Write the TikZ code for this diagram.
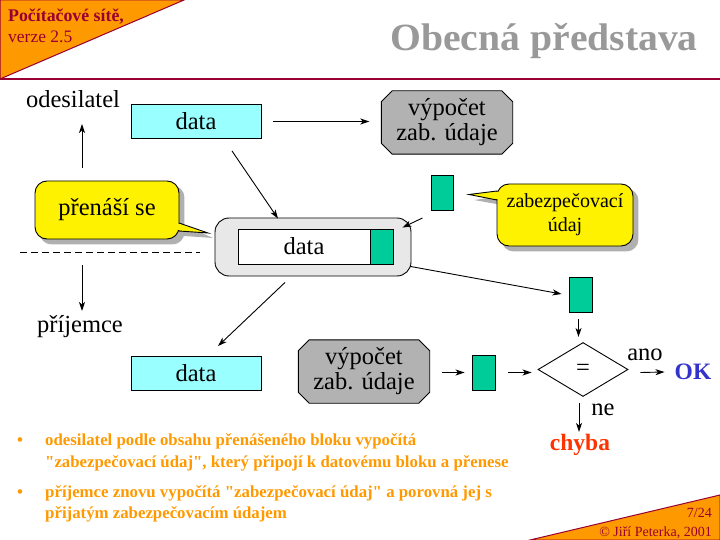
\documentclass[tikz,border=0pt]{standalone}
\usepackage{fontspec}
\setmainfont{Liberation Serif}[Ligatures=TeXOff]
\usetikzlibrary{arrows.meta,calc,backgrounds,shapes.geometric}
\definecolor{dred}{HTML}{990033}
\definecolor{orng}{HTML}{FF9900}
\definecolor{cyanbox}{HTML}{99FFFF}
\definecolor{grn}{HTML}{00CC99}
\definecolor{octg}{HTML}{B2B2B2}
\definecolor{contg}{HTML}{E8E8E8}
\definecolor{ttlg}{HTML}{999999}
\definecolor{okblue}{HTML}{3333CC}
\definecolor{errred}{HTML}{FF3300}
\definecolor{shad}{HTML}{B0B0B0}
\newcommand{\fsz}[2]{\fontsize{#1}{#2}\selectfont}
\newcommand{\octshape}[2]{\filldraw[fill=octg,line width=0.9pt] ([xshift=#2]#1.north west) -- ([xshift=-#2]#1.north east) -- ([yshift=-#2]#1.north east) -- ([yshift=#2]#1.south east) -- ([xshift=-#2]#1.south east) -- ([xshift=#2]#1.south west) -- ([yshift=#2]#1.south west) -- ([yshift=-#2]#1.north west) -- cycle;}
\begin{document}
\begin{tikzpicture}[x=1pt,y=-1pt,
  arr/.style={-{Stealth[length=9pt,width=6pt,inset=2.5pt]},line width=0.9pt},
  txt/.style={font=\fsz{24.5}{25},inner sep=0pt},
  box/.style={draw,line width=0.9pt,inner sep=0pt,font=\fsz{24.5}{25}},
  databox/.style={box,fill=cyanbox,minimum width=130pt,minimum height=34pt},
  greenbox/.style={box,fill=grn,minimum width=23pt,minimum height=35pt},
  octnode/.style={inner sep=0pt,font=\fsz{24.5}{25},align=center,minimum width=131pt,minimum height=63pt},
  callout/.style={box,fill=yellow,rounded corners=12pt,align=center},
  bul/.style={font=\bfseries\fsz{16.8}{20},text=orng,anchor=base west,inner sep=0pt},
  hdr/.style={inner sep=0pt,text=dred},
]
\useasboundingbox (0,0) rectangle (720,540);

% header and footer
\filldraw[fill=orng,draw=dred,line width=1pt] (0,0) -- (184,0) -- (0,79) -- cycle;
\draw[dred,line width=1.5pt] (0,79) -- (720,79);
\node[hdr,anchor=base west,font=\bfseries\fsz{17.8}{20}] (h1) at (8,22) {Počítačové sítě,};
\node[hdr,anchor=base west,font=\fsz{17.5}{20}] (h2) at (8,43) {verze 2.5};
\node[anchor=base east,inner sep=0pt,font=\bfseries\fsz{38.5}{40}\addfontfeatures{FakeStretch=1.03},text=ttlg] (title) at (698,51) {Obecná představa};
\filldraw[fill=orng,draw=dred,line width=1pt] (530,540) -- (720,495) -- (720,540) -- cycle;
\node[hdr,anchor=base east,font=\fsz{14}{16}] (pg) at (712,517) {7/24};
\node[hdr,anchor=base east,font=\fsz{14}{16}] (cp) at (712,536) {© Jiří Peterka, 2001};

% labels
\node[txt,anchor=base] (odes) at (73,108) {odesilatel};
\node[txt,anchor=base] (prij) at (80,332) {příjemce};

% sender side
\node[databox] (d1) at (196,121.5) {data};
\node[octnode] (o1) at (447,122.5) {výpočet\\zab. údaje};
\node[greenbox,minimum width=22pt] (g1) at (442,193) {};

% transmitted block
\node[box,fill=contg,rounded corners=14pt,minimum width=196pt,minimum height=58pt] (cont) at (313,247) {};
\node[box,fill=white,minimum width=132pt,minimum height=35pt] (din) at (304,246.5) {data};
\node[greenbox] (gin) at (381.5,246.5) {};

% callouts
\node[callout,minimum width=144pt,minimum height=58pt] (c1) at (107,210) {přenáší se};
\node[callout,minimum width=136pt,minimum height=62pt,font=\fsz{20}{24}] (c2) at (565,215) {zabezpečovací\\údaj};

% receiver side
\node[databox] (d2) at (196,373.5) {data};
\node[octnode] (o2) at (364,371.5) {výpočet\\zab. údaje};
\node[greenbox] (g3) at (483.5,372.5) {};
\node[greenbox] (g2) at (580.5,295) {};
\node[draw,line width=0.9pt,diamond,aspect=1.667,minimum width=90pt,minimum height=54pt,inner sep=0pt,font=\fsz{24.5}{25}] (dia) at (583,369.5) {=};
\node[txt] (ano) at (645,355) {ano};
\node[txt] (ne) at (603,410) {ne};
\node[inner sep=0pt,font=\bfseries\fsz{23.5}{25},text=okblue] (ok) at (693,372) {OK};
\node[inner sep=0pt,font=\bfseries\fsz{23.5}{25},text=errred] (err) at (580,445) {chyba};

% background: octagons, shadows, pointers
\begin{scope}[on background layer]
  \octshape{o1}{11pt}
  \octshape{o2}{11pt}
  \fill[shad,rounded corners=12pt] ($(c1.north west)+(5,5)$) rectangle ($(c1.south east)+(5,5)$);
  \fill[shad] (184,225) -- (213,238) -- (184,236) -- cycle;
  \fill[shad,rounded corners=12pt] ($(c2.north west)+(5,5)$) rectangle ($(c2.south east)+(5,5)$);
  \fill[shad] (502,196) -- (474,200) -- (502,205) -- cycle;
  \filldraw[fill=yellow,line width=0.9pt] (179,223) -- (208,233) -- (179,231) -- cycle;
  \filldraw[fill=yellow,line width=0.9pt] (497,191) -- (469,194.5) -- (497,200) -- cycle;
\end{scope}
% join pointers to callout boxes
\fill[yellow] (177.5,224.2) rectangle (180.5,229.8);
\fill[yellow] (495.5,192.2) rectangle (498.5,198.8);

% separator
\draw[line width=0.9pt,dash pattern=on 7pt off 4pt] (20,252) -- (200,252);

% arrows
\coordinate (bs) at (82,168); \coordinate (be) at (82,124);
\coordinate (cs) at (82,265); \coordinate (ce) at (82,311);
\draw[arr] (bs) -- (be);
\draw[arr] (cs) -- (ce);
\draw[arr] ($(d1.east)+(12,0)$) -- ($(d1.east -| o1.west)+(-12,0)$);
\draw[arr] ($(d1.south)+(36,12)$) -- ($(cont.north)+(-35,1)$);
\draw[arr] ($(g1.south west)+(-8,7)$) -- ($(cont.north east)+(-9,10)$);
\draw[arr] ($(cont.south east)+(-1,-10)$) -- ($(g2.west)+(-7,-1)$);
\draw[arr] ($(cont.south)+(-28,6)$) -- ($(d2.north)+(22,-10)$);
\draw[arr] ($(g2.south)+(-2,6)$) -- ($(g2.south)+(-2,24)$);
\draw[arr] ($(o2.east)+(12,1)$) -- ($(g3.west)+(-7,0)$);
\draw[arr] ($(g3.east)+(13,0)$) -- ($(dia.west)+(-6,3)$);
\draw[arr] ($(dia.east)+(12,3)$) -- ($(ok.west)+(-10,0)$);
\draw[arr] ($(dia.south)+(-4,6)$) -- ($(dia.south)+(-4,35)$);

% bullets
\node[bul] (b1) at (17,445) {•};
\node[bul] (l1) at (45,445) {odesilatel podle obsahu přenášeného bloku vypočítá};
\node[bul] (l2) at (45,467) {"zabezpečovací údaj", který připojí k datovému bloku a přenese};
\node[bul] (b2) at (17,497) {•};
\node[bul] (l3) at (45,497) {příjemce znovu vypočítá "zabezpečovací údaj" a porovná jej s};
\node[bul] (l4) at (45,518) {přijatým zabezpečovacím údajem};
\end{tikzpicture}
\end{document}
